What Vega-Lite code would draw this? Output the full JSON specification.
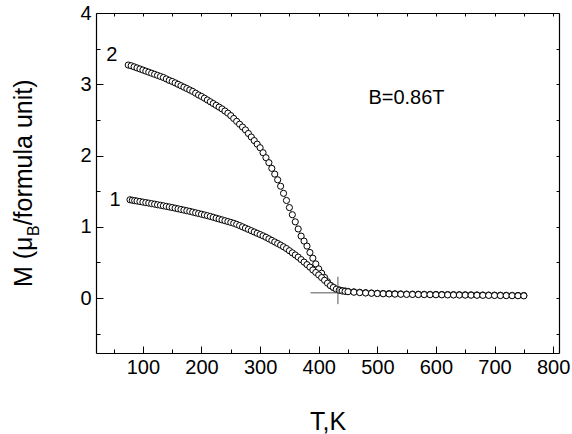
{
"$schema": "https://vega.github.io/schema/vega-lite/v6.json",
"width": 463, "height": 340,
"autosize": "none",
"padding": {"left": 96, "top": 13, "right": 13, "bottom": 81},
"background": "white",
"config": {"view": {"stroke": null}, "font": "Liberation Sans", "axis": {"grid": false, "domainColor": "black", "tickColor": "black", "labelColor": "black", "titleColor": "black", "domainWidth": 1.2, "tickWidth": 1}},
"datasets": {
"pts": [
{"c":2,"T":75,"M":3.27},{"c":2,"T":80,"M":3.26},{"c":2,"T":85,"M":3.245},{"c":2,"T":90,"M":3.23},{"c":2,"T":95,"M":3.215},{"c":2,"T":100,"M":3.2},{"c":2,"T":105,"M":3.185},{"c":2,"T":110,"M":3.17},{"c":2,"T":115,"M":3.155},{"c":2,"T":120,"M":3.14},{"c":2,"T":125,"M":3.125},{"c":2,"T":130,"M":3.11},{"c":2,"T":135,"M":3.095},{"c":2,"T":140,"M":3.075},{"c":2,"T":145,"M":3.055},{"c":2,"T":150,"M":3.04},{"c":2,"T":155,"M":3.02},{"c":2,"T":160,"M":3.0},{"c":2,"T":165,"M":2.98},{"c":2,"T":170,"M":2.96},{"c":2,"T":175,"M":2.94},{"c":2,"T":180,"M":2.92},{"c":2,"T":185,"M":2.9},{"c":2,"T":190,"M":2.875},{"c":2,"T":195,"M":2.85},{"c":2,"T":200,"M":2.83},{"c":2,"T":205,"M":2.805},{"c":2,"T":210,"M":2.78},{"c":2,"T":215,"M":2.755},{"c":2,"T":220,"M":2.73},{"c":2,"T":225,"M":2.705},{"c":2,"T":230,"M":2.68},{"c":2,"T":235,"M":2.655},{"c":2,"T":240,"M":2.625},{"c":2,"T":245,"M":2.595},{"c":2,"T":250,"M":2.56},{"c":2,"T":255,"M":2.52},{"c":2,"T":260,"M":2.48},{"c":2,"T":265,"M":2.44},{"c":2,"T":270,"M":2.4},{"c":2,"T":275,"M":2.36},{"c":2,"T":280,"M":2.31},{"c":2,"T":285,"M":2.26},{"c":2,"T":290,"M":2.21},{"c":2,"T":295,"M":2.16},{"c":2,"T":300,"M":2.11},{"c":2,"T":305,"M":2.04},{"c":2,"T":310,"M":1.97},{"c":2,"T":315,"M":1.9},{"c":2,"T":320,"M":1.82},{"c":2,"T":325,"M":1.74},{"c":2,"T":330,"M":1.66},{"c":2,"T":335,"M":1.57},{"c":2,"T":340,"M":1.47},{"c":2,"T":345,"M":1.37},{"c":2,"T":350,"M":1.27},{"c":2,"T":355,"M":1.17},{"c":2,"T":360,"M":1.07},{"c":2,"T":365,"M":0.97},{"c":2,"T":370,"M":0.87},{"c":2,"T":375,"M":0.8},{"c":2,"T":380,"M":0.73},{"c":2,"T":385,"M":0.64},{"c":2,"T":390,"M":0.56},{"c":2,"T":395,"M":0.48},{"c":2,"T":400,"M":0.41},{"c":2,"T":405,"M":0.35},{"c":2,"T":410,"M":0.29},{"c":2,"T":415,"M":0.23},{"c":2,"T":420,"M":0.18},{"c":2,"T":425,"M":0.15},{"c":2,"T":430,"M":0.125},{"c":2,"T":435,"M":0.115},{"c":2,"T":440,"M":0.105},{"c":2,"T":445,"M":0.1},{"c":2,"T":450,"M":0.095},{"c":2,"T":460,"M":0.088},{"c":2,"T":470,"M":0.082},{"c":2,"T":480,"M":0.076},{"c":2,"T":490,"M":0.072},{"c":2,"T":500,"M":0.068},{"c":2,"T":510,"M":0.065},{"c":2,"T":520,"M":0.063},{"c":2,"T":530,"M":0.061},{"c":2,"T":540,"M":0.059},{"c":2,"T":550,"M":0.057},{"c":2,"T":560,"M":0.056},{"c":2,"T":570,"M":0.055},{"c":2,"T":580,"M":0.054},{"c":2,"T":590,"M":0.053},{"c":2,"T":600,"M":0.052},{"c":2,"T":610,"M":0.051},{"c":2,"T":620,"M":0.05},{"c":2,"T":630,"M":0.049},{"c":2,"T":640,"M":0.048},{"c":2,"T":650,"M":0.047},{"c":2,"T":660,"M":0.046},{"c":2,"T":670,"M":0.045},{"c":2,"T":680,"M":0.044},{"c":2,"T":690,"M":0.043},{"c":2,"T":700,"M":0.042},{"c":2,"T":710,"M":0.041},{"c":2,"T":720,"M":0.04},{"c":2,"T":730,"M":0.039},{"c":2,"T":740,"M":0.038},{"c":2,"T":750,"M":0.037},
{"c":1,"T":78,"M":1.38},{"c":1,"T":82,"M":1.373},{"c":1,"T":86,"M":1.368},{"c":1,"T":90,"M":1.362},{"c":1,"T":95,"M":1.355},{"c":1,"T":100,"M":1.347},{"c":1,"T":105,"M":1.34},{"c":1,"T":110,"M":1.333},{"c":1,"T":115,"M":1.325},{"c":1,"T":120,"M":1.318},{"c":1,"T":125,"M":1.31},{"c":1,"T":130,"M":1.303},{"c":1,"T":135,"M":1.295},{"c":1,"T":140,"M":1.287},{"c":1,"T":145,"M":1.279},{"c":1,"T":150,"M":1.271},{"c":1,"T":155,"M":1.262},{"c":1,"T":160,"M":1.253},{"c":1,"T":165,"M":1.244},{"c":1,"T":170,"M":1.235},{"c":1,"T":175,"M":1.226},{"c":1,"T":180,"M":1.217},{"c":1,"T":185,"M":1.207},{"c":1,"T":190,"M":1.197},{"c":1,"T":195,"M":1.187},{"c":1,"T":200,"M":1.177},{"c":1,"T":205,"M":1.167},{"c":1,"T":210,"M":1.157},{"c":1,"T":215,"M":1.146},{"c":1,"T":220,"M":1.134},{"c":1,"T":225,"M":1.122},{"c":1,"T":230,"M":1.11},{"c":1,"T":235,"M":1.098},{"c":1,"T":240,"M":1.086},{"c":1,"T":245,"M":1.074},{"c":1,"T":250,"M":1.062},{"c":1,"T":255,"M":1.05},{"c":1,"T":260,"M":1.035},{"c":1,"T":265,"M":1.018},{"c":1,"T":270,"M":1.0},{"c":1,"T":275,"M":0.982},{"c":1,"T":280,"M":0.964},{"c":1,"T":285,"M":0.946},{"c":1,"T":290,"M":0.928},{"c":1,"T":295,"M":0.91},{"c":1,"T":300,"M":0.892},{"c":1,"T":305,"M":0.874},{"c":1,"T":310,"M":0.854},{"c":1,"T":315,"M":0.832},{"c":1,"T":320,"M":0.81},{"c":1,"T":325,"M":0.788},{"c":1,"T":330,"M":0.766},{"c":1,"T":335,"M":0.744},{"c":1,"T":340,"M":0.72},{"c":1,"T":345,"M":0.695},{"c":1,"T":350,"M":0.665},{"c":1,"T":355,"M":0.635},{"c":1,"T":360,"M":0.605},{"c":1,"T":365,"M":0.575},{"c":1,"T":370,"M":0.54},{"c":1,"T":375,"M":0.505},{"c":1,"T":380,"M":0.47},{"c":1,"T":385,"M":0.435},{"c":1,"T":390,"M":0.395},{"c":1,"T":395,"M":0.36},{"c":1,"T":400,"M":0.325},{"c":1,"T":405,"M":0.288},{"c":1,"T":410,"M":0.25},{"c":1,"T":415,"M":0.21},{"c":1,"T":420,"M":0.175},{"c":1,"T":425,"M":0.15},{"c":1,"T":430,"M":0.125},{"c":1,"T":435,"M":0.11},{"c":1,"T":440,"M":0.1},{"c":1,"T":445,"M":0.095},{"c":1,"T":450,"M":0.09},{"c":1,"T":460,"M":0.083},{"c":1,"T":470,"M":0.077},{"c":1,"T":480,"M":0.072},{"c":1,"T":490,"M":0.068},{"c":1,"T":500,"M":0.064},{"c":1,"T":510,"M":0.061},{"c":1,"T":520,"M":0.058},{"c":1,"T":530,"M":0.056},{"c":1,"T":540,"M":0.054},{"c":1,"T":550,"M":0.052},{"c":1,"T":560,"M":0.051},{"c":1,"T":570,"M":0.05},{"c":1,"T":580,"M":0.049},{"c":1,"T":590,"M":0.048},{"c":1,"T":600,"M":0.047},{"c":1,"T":610,"M":0.046},{"c":1,"T":620,"M":0.045},{"c":1,"T":630,"M":0.044},{"c":1,"T":640,"M":0.043},{"c":1,"T":650,"M":0.042},{"c":1,"T":660,"M":0.041},{"c":1,"T":670,"M":0.04},{"c":1,"T":680,"M":0.039},{"c":1,"T":690,"M":0.038},{"c":1,"T":700,"M":0.037},{"c":1,"T":710,"M":0.036},{"c":1,"T":720,"M":0.035},{"c":1,"T":730,"M":0.034},{"c":1,"T":740,"M":0.033},{"c":1,"T":750,"M":0.032}
],
"cross": [{"T":386,"T2":440,"M":0.074,"M2":0.074},{"T":432.8,"T2":432.8,"M":0.3,"M2":-0.085}],
"labels": [{"T":46.8,"M":3.41,"txt":"2"},{"T":52.4,"M":1.376,"txt":"1"},{"T":549.8,"M":2.803,"txt":"B=0.86T"}],
"ytitle": [{"T":-89,"M":0.156,"txt":"M (μ"},{"T":-89,"M":1.021,"txt":"/formula unit)"}],
"ysub": [{"T":-77.3,"M":0.871,"txt":"B"}]
},
"layer": [
{"data": {"name": "pts"}, "mark": {"type": "line", "color": "black", "strokeWidth": 0.6},
 "encoding": {
  "x": {"field": "T", "type": "quantitative", "scale": {"domain": [20, 810], "nice": false, "zero": false},
        "axis": {"orient": "bottom", "values": [100,200,300,400,500,600,700,800], "tickSize": -7, "labelFontSize": 20, "labelPadding": 11, "labelFlush": false, "labelOverlap": false, "title": "T,K", "titleFontSize": 25, "titleFontWeight": "normal", "titlePadding": 32}},
  "y": {"field": "M", "type": "quantitative", "scale": {"domain": [-0.77, 4], "nice": false, "zero": false},
        "axis": {"orient": "left", "values": [0,1,2,3,4], "format": "d", "tickSize": -7, "labelFontSize": 20, "labelPadding": 12, "labelOverlap": false, "labelFlush": false, "title": null}},
  "detail": {"field": "c"}
 }},
{"data": {"name": "pts"}, "mark": {"type": "point", "shape": "circle", "filled": true, "fill": "white", "stroke": "black", "strokeWidth": 1, "size": 38, "opacity": 1},
 "encoding": {
  "x": {"field": "T", "type": "quantitative", "scale": {"domain": [20, 810], "nice": false, "zero": false},
        "axis": {"orient": "bottom", "values": [50,150,250,350,450,550,650,750], "tickSize": -4, "labels": false, "domain": false, "title": null}},
  "y": {"field": "M", "type": "quantitative", "scale": {"domain": [-0.77, 4], "nice": false, "zero": false},
        "axis": {"orient": "left", "values": [-0.5,0.5,1.5,2.5,3.5], "tickSize": -4, "labels": false, "domain": false, "title": null}}
 }},
{"data": {"name": "cross"}, "mark": {"type": "rule", "color": "#555555", "strokeWidth": 1},
 "encoding": {
  "x": {"field": "T", "type": "quantitative", "scale": {"domain": [20, 810], "nice": false, "zero": false},
        "axis": {"orient": "top", "values": [50,100,150,200,250,300,350,400,450,500,550,600,650,700,750,800], "tickSize": -3, "labels": false, "domain": true, "title": null}},
  "x2": {"field": "T2"},
  "y": {"field": "M", "type": "quantitative", "scale": {"domain": [-0.77, 4], "nice": false, "zero": false},
        "axis": {"orient": "right", "values": [-0.5,0,0.5,1,1.5,2,2.5,3,3.5,4], "tickSize": -3, "labels": false, "domain": true, "title": null}},
  "y2": {"field": "M2"}
 }},
{"data": {"name": "labels"}, "mark": {"type": "text", "fontSize": 20, "color": "black", "align": "center", "baseline": "middle"},
 "encoding": {
  "x": {"field": "T", "type": "quantitative", "scale": {"domain": [20, 810], "nice": false, "zero": false}, "axis": null},
  "y": {"field": "M", "type": "quantitative", "scale": {"domain": [-0.77, 4], "nice": false, "zero": false}, "axis": null},
  "text": {"field": "txt"}
 }},
{"data": {"name": "ytitle"}, "mark": {"type": "text", "fontSize": 25, "color": "black", "align": "left", "baseline": "alphabetic", "angle": 270},
 "encoding": {
  "x": {"field": "T", "type": "quantitative", "scale": {"domain": [20, 810], "nice": false, "zero": false}, "axis": null},
  "y": {"field": "M", "type": "quantitative", "scale": {"domain": [-0.77, 4], "nice": false, "zero": false}, "axis": null},
  "text": {"field": "txt"}
 }},
{"data": {"name": "ysub"}, "mark": {"type": "text", "fontSize": 16, "color": "black", "align": "left", "baseline": "alphabetic", "angle": 270},
 "encoding": {
  "x": {"field": "T", "type": "quantitative", "scale": {"domain": [20, 810], "nice": false, "zero": false}, "axis": null},
  "y": {"field": "M", "type": "quantitative", "scale": {"domain": [-0.77, 4], "nice": false, "zero": false}, "axis": null},
  "text": {"field": "txt"}
 }}
],
"resolve": {"axis": {"x": "independent", "y": "independent"}}
}
